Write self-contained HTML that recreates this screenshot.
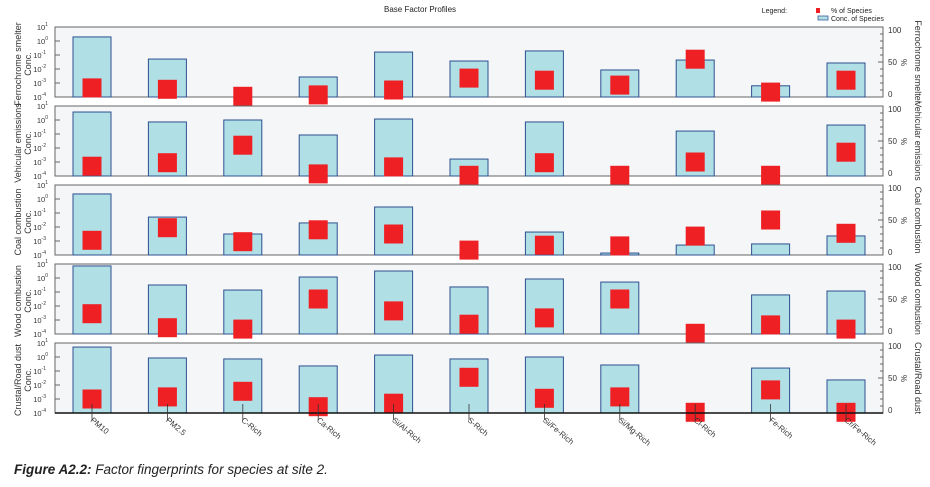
<!DOCTYPE html>
<html><head><meta charset="utf-8"><style>
body{margin:0;background:#fff;width:930px;height:487px;overflow:hidden;font-family:"Liberation Sans",sans-serif}
#cap{position:absolute;left:14px;top:462px;font-size:13.5px;font-style:italic;color:#222}
</style></head><body>
<svg id="chart" width="930" height="460" style="position:absolute;left:0;top:0" font-family="Liberation Sans, sans-serif"></svg>
<div id="cap"><b>Figure A2.2:</b> Factor fingerprints for species at site 2.</div>
<script>
const categories=["PM10","PM2.5","C-Rich","Ca-Rich","Si/Al-Rich","S-Rich","Si/Fe-Rich","Si/Mg-Rich","Cl-Rich","Fe-Rich","Cr/Fe-Rich"];
const factors=["Ferrochrome smelter","Vehicular emissions","Coal combustion","Wood combustion","Crustal/Road dust"];
const concLog1=[0.29,-1.29,-4.5,-2.57,-0.79,-1.43,-0.71,-2.07,-1.36,-3.2,-1.57];
const concLog2=[0.57,-0.14,0,-1.07,0.07,-2.79,-0.14,-4.5,-0.79,-4.5,-0.36];
const concLog3=[0.36,-1.29,-2.5,-1.71,-0.57,-4.5,-2.36,-3.86,-3.29,-3.21,-2.64];
const concLog4=[0.86,-0.5,-0.86,0.07,0.5,-0.64,-0.07,-0.29,-4.5,-1.21,-0.93];
const concLog5=[0.71,-0.07,-0.14,-0.64,0.14,-0.14,0,-0.57,-4.5,-0.79,-1.64];
const pct1=[13,11,1,3,10,27,24,17,54,7,24];
const pct2=[14,19,44,3,13,1,19,1,20,1,34];
const pct3=[21,39,19,36,30,7,14,13,27,50,31];
const pct4=[29,9,7,50,33,14,23,50,1,13,7];
const pct5=[20,23,31,9,14,51,21,23,1,33,1];
const logTicks=[1,0,-1,-2,-3,-4];
const pctTicks=[0,50,100];
const concs=[concLog1,concLog2,concLog3,concLog4,concLog5];
const pcts=[pct1,pct2,pct3,pct4,pct5];
const svg=document.getElementById('chart');
const NS='http://www.w3.org/2000/svg';
function mk(t,a,p){const e=document.createElementNS(NS,t);for(const k in a)e.setAttribute(k,a[k]);(p||svg).appendChild(e);return e;}
const L=55,R=883,PH=70,tops=[27,106,185,264,343];
const x=i=>92+i*75.4;
const BW=38,MS=19;
let t=mk('text',{x:420,y:12,'font-size':8,'text-anchor':'middle',fill:'#222'});t.textContent='Base Factor Profiles';


const lg=mk('g',{});


t=mk('text',{x:787,y:13,'font-size':7,'text-anchor':'end',fill:'#222'},lg);t.textContent='Legend:';
mk('rect',{x:816,y:8,width:4,height:5,fill:'#ee2024'},lg);
t=mk('text',{x:831,y:13,'font-size':7,fill:'#222'},lg);t.textContent='% of Species';
mk('rect',{x:818,y:16,width:10,height:4,fill:'#b0e0e6',stroke:'#3a5a9a','stroke-width':0.8},lg);
t=mk('text',{x:831,y:21,'font-size':7,fill:'#222'},lg);t.textContent='Conc. of Species';
factors.forEach((f,p)=>{
  const top=tops[p],bot=top+PH;
  const g=mk('g',{});
  
  
  const yL=v=>top+(1-v)*PH/5;
  const yP=v=>bot-v*PH/100;
  mk('rect',{x:L,y:top,width:R-L,height:PH,fill:'#f4f6f8',stroke:'#666','stroke-width':1},g);
  logTicks.forEach(v=>{
    const y=yL(v);
    mk('line',{x1:L,x2:L+5,y1:y,y2:y,stroke:'#666'},g);
    const tx=mk('text',{x:v<0?46:48,y:y+3,'font-size':7.5,'text-anchor':'end',fill:'#333'},g);
    tx.textContent='10';
    const s=mk('tspan',{dy:-4,'font-size':5},tx);s.textContent=String(v);
  });
  for(let v=0;v<=100;v+=10){const y=yP(v);mk('line',{x1:R-(v%50?3:5),x2:R,y1:y,y2:y,stroke:'#666'},g);}
  pctTicks.forEach(v=>{const tx=mk('text',{x:888,y:yP(v)+(v==100?6:v==0?0:3),'font-size':8,fill:'#333'},g);tx.textContent=v;});
  let tx=mk('text',{x:901,y:yP(50)+3,'font-size':8,fill:'#333',transform:`rotate(90 904 ${yP(50)})`},g);tx.textContent='%';
  tx=mk('text',{x:0,y:0,'font-size':9,fill:'#333','text-anchor':'middle',transform:`translate(915 ${top+PH/2}) rotate(90)`},g);tx.textContent=f;
  
  
  const lt=mk('text',{x:0,y:0,'font-size':9,fill:'#333','text-anchor':'middle',transform:`translate(21 ${top+PH/2+2}) rotate(-90)`},g);
  
  
  let s1=mk('tspan',{x:0,dy:0},lt);s1.textContent=f;
  let s2=mk('tspan',{x:0,dy:10},lt);s2.textContent='Conc.';
  categories.forEach((c,i)=>{
    const v=concs[p][i];
    if(v>-4){
      const yt=yL(v);
      const b=mk('rect',{x:x(i)-BW/2,y:yt,width:BW,height:bot-yt,fill:'#b0e0e6',stroke:'#2e4f8f','stroke-width':1},g);
      
      
    }
  });
  categories.forEach((c,i)=>{
    const yc=yP(pcts[p][i]);
    const m=mk('rect',{x:x(i)-MS/2,y:yc-MS/2,width:MS,height:MS,fill:'#ee2024'},g);
    
    
  });
});
mk('line',{x1:L,x2:R,y1:413,y2:413,stroke:'#111','stroke-width':1.5});
categories.forEach((c,i)=>{
  const cx=x(i);
  mk('line',{x1:cx,x2:cx,y1:404,y2:420,stroke:'#333','stroke-width':0.8});
  const tx=mk('text',{x:0,y:0,'font-size':8,fill:'#333',transform:`translate(${cx-2} ${421}) rotate(40)`});
  tx.textContent=c;
  
  
});
</script>
</body></html>
